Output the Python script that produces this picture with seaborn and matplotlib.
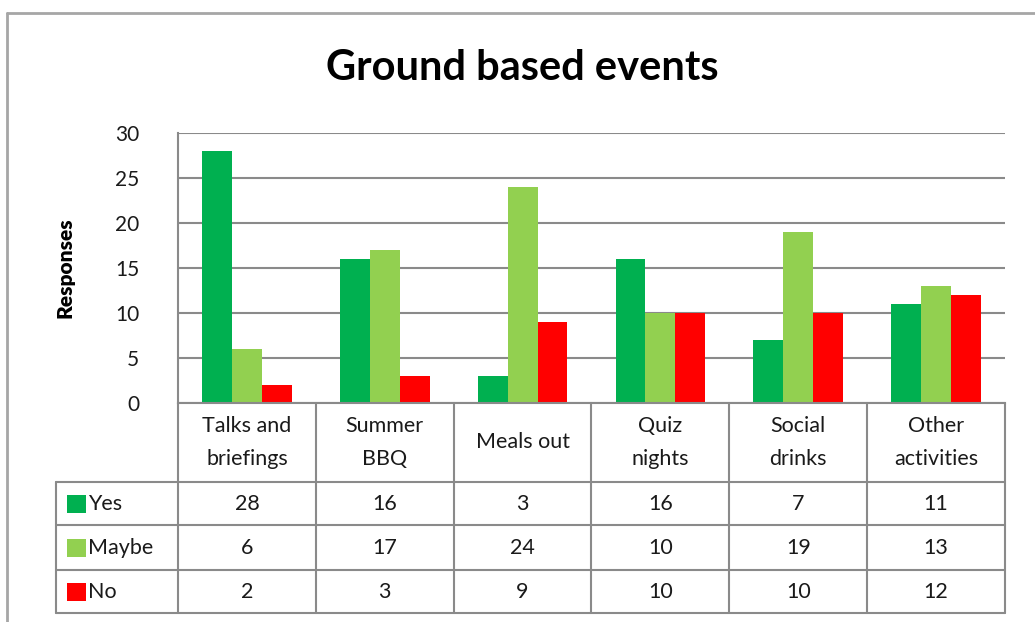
import numpy as np
import pandas as pd
import seaborn as sns
import matplotlib.pyplot as plt
from matplotlib.transforms import blended_transform_factory
from matplotlib.lines import Line2D
from matplotlib.patches import Rectangle

# data
categories = ["Talks and\nbriefings", "Summer\nBBQ", "Meals out", "Quiz\nnights",
              "Social\ndrinks", "Other\nactivities"]
series = ["Yes", "Maybe", "No"]
yes = [28, 16, 3, 16, 7, 11]
maybe = [6, 17, 24, 10, 19, 13]
no = [2, 3, 9, 10, 10, 12]
colors = ["#00B050", "#92D050", "#FF0000"]

df = pd.DataFrame({
    "Event": categories * 3,
    "Answer": np.repeat(series, len(categories)),
    "Responses": yes + maybe + no,
})

sns.set_theme(style="white")
plt.rcParams["font.family"] = ["Lato", "DejaVu Sans"]

W, H = 1035, 622
fig = plt.figure(figsize=(W / 100, H / 100), dpi=100)


def fx(px):
    return px / W


def fy(py):
    return 1 - py / H


grey = "#8a8a8a"
txt = "#1a1a1a"
ax = fig.add_axes([fx(178), fy(403), fx(1005) - fx(178), fy(133) - fy(403)])
sns.barplot(data=df, x="Event", y="Responses", hue="Answer", palette=colors,
            width=0.65, gap=0, linewidth=0, saturation=1, legend=False, ax=ax)
ax.set_ylim(0, 30)
ax.set_xlim(-0.5, len(categories) - 0.5)
ax.set_yticks(range(0, 31, 5))
ax.yaxis.grid(True, color=grey, lw=1.5)
ax.set_axisbelow(True)
ax.set_xticks([])
ax.set_xlabel("")
ax.set_ylabel("")
ax.tick_params(axis="y", length=0, pad=28, labelsize=15, labelcolor=txt)
for s in ["top", "right"]:
    ax.spines[s].set_visible(False)
for s in ["left", "bottom"]:
    ax.spines[s].set_color(grey)
    ax.spines[s].set_linewidth(1.5)

# title and y label
fig.text(fx(522), fy(68), "Ground based events", ha="center", va="center",
         fontsize=30, fontweight="bold", color="black")
fig.text(fx(65), fy(268), "Responses", ha="center", va="center", rotation=90,
         fontsize=15, fontweight="heavy", color="black")

# data table under the chart
tr = blended_transform_factory(ax.transData, fig.transFigure)
rows_y = [403, 482, 525, 570, 613]
left_px = 56
for y in rows_y[1:]:
    fig.add_artist(Line2D([fx(left_px), fx(1005)], [fy(y), fy(y)], color=grey, lw=1.5))
fig.add_artist(Line2D([fx(left_px), fx(left_px)], [fy(482), fy(613)], color=grey, lw=1.5))
for k in range(len(categories) + 1):
    fig.add_artist(Line2D([k - 0.5, k - 0.5], [fy(403), fy(613)], color=grey, lw=1.5,
                          transform=tr))

for i, cat in enumerate(categories):
    fig.text(i, fy((403 + 482) / 2), cat, ha="center", va="center", fontsize=15.5,
             linespacing=1.85, transform=tr, color=txt)

values = [yes, maybe, no]
for r, (name, vals, col) in enumerate(zip(series, values, colors)):
    yc = (rows_y[r + 1] + rows_y[r + 2]) / 2
    fig.add_artist(Rectangle((fx(67), fy(yc + 9)), fx(19), fy(0) - fy(18),
                             facecolor=col, edgecolor="none"))
    fig.text(fx(88), fy(yc), name, ha="left", va="center", fontsize=15.5, color=txt)
    for i, v in enumerate(vals):
        fig.text(i, fy(yc), str(v), ha="center", va="center", fontsize=15.5,
                 transform=tr, color=txt)

# outer chart border
fig.add_artist(Line2D([fx(7), fx(W)], [fy(13), fy(13)], color="#a6a6a6", lw=2))
fig.add_artist(Line2D([fx(7), fx(7)], [fy(13), fy(H)], color="#a6a6a6", lw=2))

fig.savefig("out.png", dpi=100)
